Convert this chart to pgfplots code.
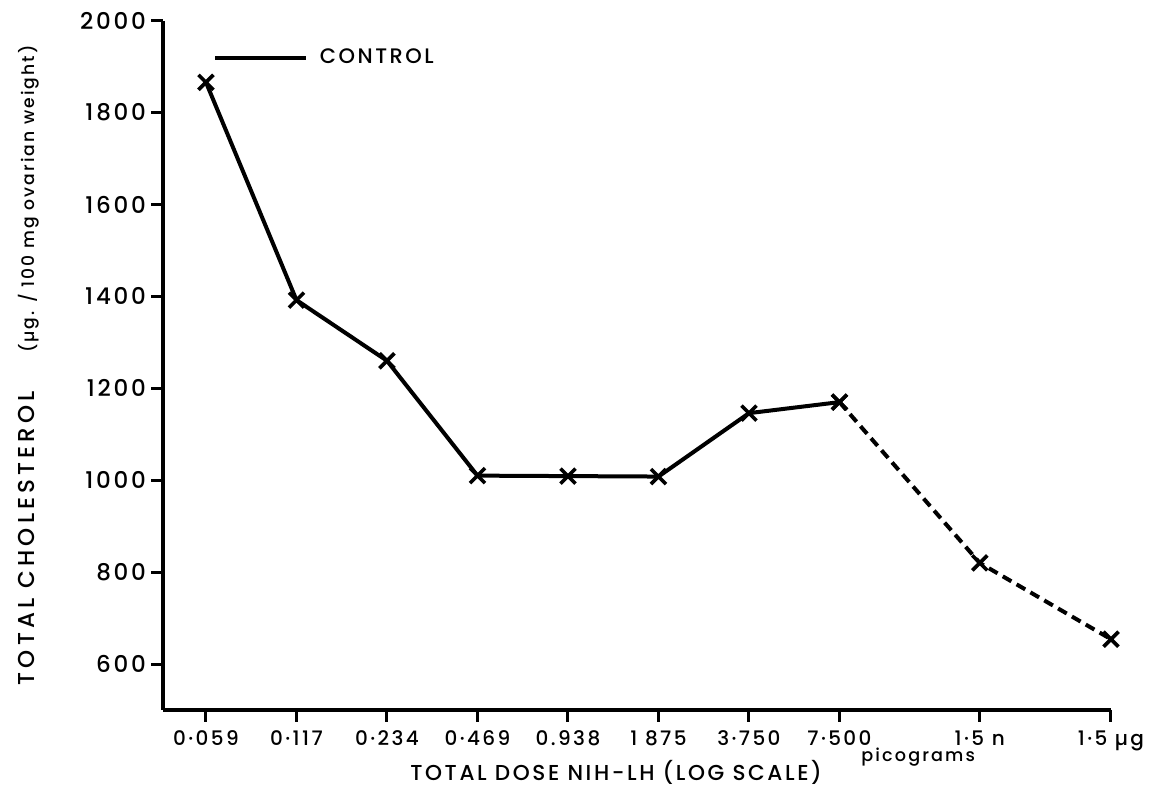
\documentclass[border=0pt]{standalone}
\usepackage{pgfplots}
\pgfplotsset{compat=1.18}
\usepackage{fontspec}
\setmainfont{Poppins}
\newfontfamily\lett[LetterSpace=12, UprightFont={* Medium}]{Poppins}
\newfontfamily\lettw[LetterSpace=18, UprightFont={* Medium}]{Poppins}
\begin{document}
\begin{tikzpicture}
\path[use as bounding box] (-81.5pt,-42.5pt) rectangle (500.5pt,355pt);
\begin{axis}[at={(0,0)}, anchor=south west,
  x=45.25pt, y=0.22975pt,
  xmin=-0.475, xmax=10, ymin=500, ymax=2000,
  axis x line*=bottom, axis y line*=left,
  axis line style={line width=1.8pt, -},
  tick align=outside, major tick length=6pt,
  tick style={line width=1.5pt, black},
  xtick={0,1,2,3,4,5,6,7,8.55,10},
  xticklabels={0·059,0·117,0·234,0·469,0.938,1 875,3·750,7·500,1·5 n,1·5 µg},
  ytick={600,800,1000,1200,1400,1600,1800,2000},
  yticklabels={600,800,1000,1200,1400,1600,1800,2000},
  xticklabel style={font=\lett\fontsize{10}{11}\selectfont, yshift=-1pt},
  yticklabel style={font=\lett\fontsize{11.5}{12}\selectfont, xshift=1pt},
  xlabel={TOTAL DOSE NIH-LH (LOG SCALE)},
  xlabel style={font=\lett\fontsize{10.8}{11}\selectfont, at={(rel axis cs:0.478,-0.0899)}, anchor=center},
  ylabel={{\lettw\fontsize{11.5}{12}\selectfont TOTAL CHOLESTEROL}\hspace{19pt}{\lett\fontsize{8.6}{10}\selectfont(µg. / 100 mg ovarian weight)}},
  ylabel style={at={(rel axis cs:-0.1414,0.5)}, anchor=center},
  clip=false,
  legend style={at={(rel axis cs:0.0527,0.946)}, anchor=west, draw=none, fill=none,
    inner sep=0pt, font=\lett\fontsize{10.5}{11}\selectfont,
    nodes={inner sep=0pt, anchor=west}},
  legend image code/.code={\draw[line width=1.8pt] (0pt,0pt) -- (45.5pt,0pt);},
]
\addplot[black, line width=2pt, mark=x, mark size=5.3pt, mark options={line width=1.8pt}]
  coordinates {(0,1866) (1,1392) (2,1260) (3,1010) (4,1009) (5,1008) (6,1146) (7,1170)};
\addlegendentry{\hspace{6pt}CONTROL}
\addplot[black, line width=2pt, dash pattern=on 5pt off 3pt, mark=x, mark size=5.3pt, mark options={line width=1.8pt, solid}, forget plot]
  coordinates {(7,1170) (8.55,820) (10,654)};
\node[font=\lett\fontsize{8.8}{10}\selectfont, anchor=center] at (axis cs:7.87,500) [yshift=-23.5pt] {picograms};
\end{axis}
\end{tikzpicture}
\end{document}
